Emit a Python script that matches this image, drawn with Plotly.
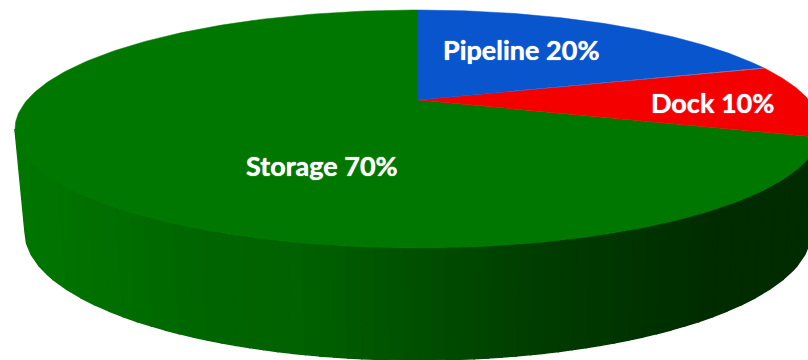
import numpy as np
import plotly.graph_objects as go

categories = ["Pipeline", "Dock", "Storage"]
values = [20, 10, 70]
colors = ["#0855CE", "#F50000", "#007800"]
label_xy = [(521, 49), (712, 102), (322, 165)]

# stepped shading of the pie's side wall (screen x -> green level)
shade_x = [15, 120, 200, 300, 430, 550, 720, 830]
shade_g = [118, 110, 102, 98, 78, 60, 44, 44]

W, H = 808, 360
TOP = dict(cx=418, cy=129, rx=403, ry=119)
BOT = dict(cx=418, cy=232, rx=393, ry=128)
APEX_Y = 100
a = (TOP["cy"] - APEX_Y) / TOP["ry"]


def rim(theta):
    """Point on the perspective-projected disc edge; theta clockwise from 12 o'clock."""
    return project(np.sin(theta), np.cos(theta))


def project(u, v):
    w = 1 + a * v
    ex = u * np.sqrt(1 - a * a) / w
    ey = (v + a) / w
    return TOP["cx"] + TOP["rx"] * ex, TOP["cy"] - TOP["ry"] * ey


def ell(e, phi):
    return e["cx"] + e["rx"] * np.cos(phi), e["cy"] + e["ry"] * np.sin(phi)


fig = go.Figure()

# side wall, drawn as strips across the front half of the pie
ts = np.linspace(-1, 1, 57)
for t0, t1 in zip(ts[:-1], ts[1:]):
    phis = np.linspace(np.arccos(t0), np.arccos(t1), 4)
    xt, yt = ell(TOP, phis)
    xb, yb = ell(BOT, phis[::-1])
    g = int(np.interp(xt.mean(), shade_x, shade_g))
    c = f"rgb(0,{g},0)"
    fig.add_trace(go.Scatter(
        x=np.r_[xt, xb, xt[0]], y=np.r_[yt, yb, yt[0]],
        mode="lines", fill="toself", fillcolor=c,
        line=dict(color=c, width=1.5), hoverinfo="skip", showlegend=False))

# top face: storage first so the smaller wedges sit above it
total = sum(values)
start = 0.0
wedges = []
for name, val, col in zip(categories, values, colors):
    sweep = 2 * np.pi * val / total
    wedges.append((name, start, start + sweep, col))
    start += sweep
for name, th0, th1, col in reversed(wedges):
    th = np.linspace(th0, th1, 240)
    xr, yr = rim(th)
    ax, ay = project(0.0, 0.0)
    fig.add_trace(go.Scatter(
        x=np.r_[ax, xr, ax], y=np.r_[ay, yr, ay],
        mode="lines", fill="toself", fillcolor=col,
        line=dict(color=col, width=0.5), name=name,
        hoverinfo="skip", showlegend=False))

for name, val, (lx, ly) in zip(categories, values, label_xy):
    fig.add_annotation(x=lx, y=ly, text=f"<b>{name} {val}%</b>", showarrow=False,
                       font=dict(family="Lato", size=27, color="white",
                                 shadow="0 0 1px white"))

fig.update_layout(
    width=W, height=H, margin=dict(l=0, r=0, t=0, b=0),
    paper_bgcolor="white", plot_bgcolor="white", showlegend=False,
    xaxis=dict(range=[0, W], visible=False, fixedrange=True),
    yaxis=dict(range=[H, 0], visible=False, fixedrange=True),
)
fig.write_html("out.html", config={"displayModeBar": False},
               post_script="document.body.style.margin='0';document.body.style.overflow='hidden';")
